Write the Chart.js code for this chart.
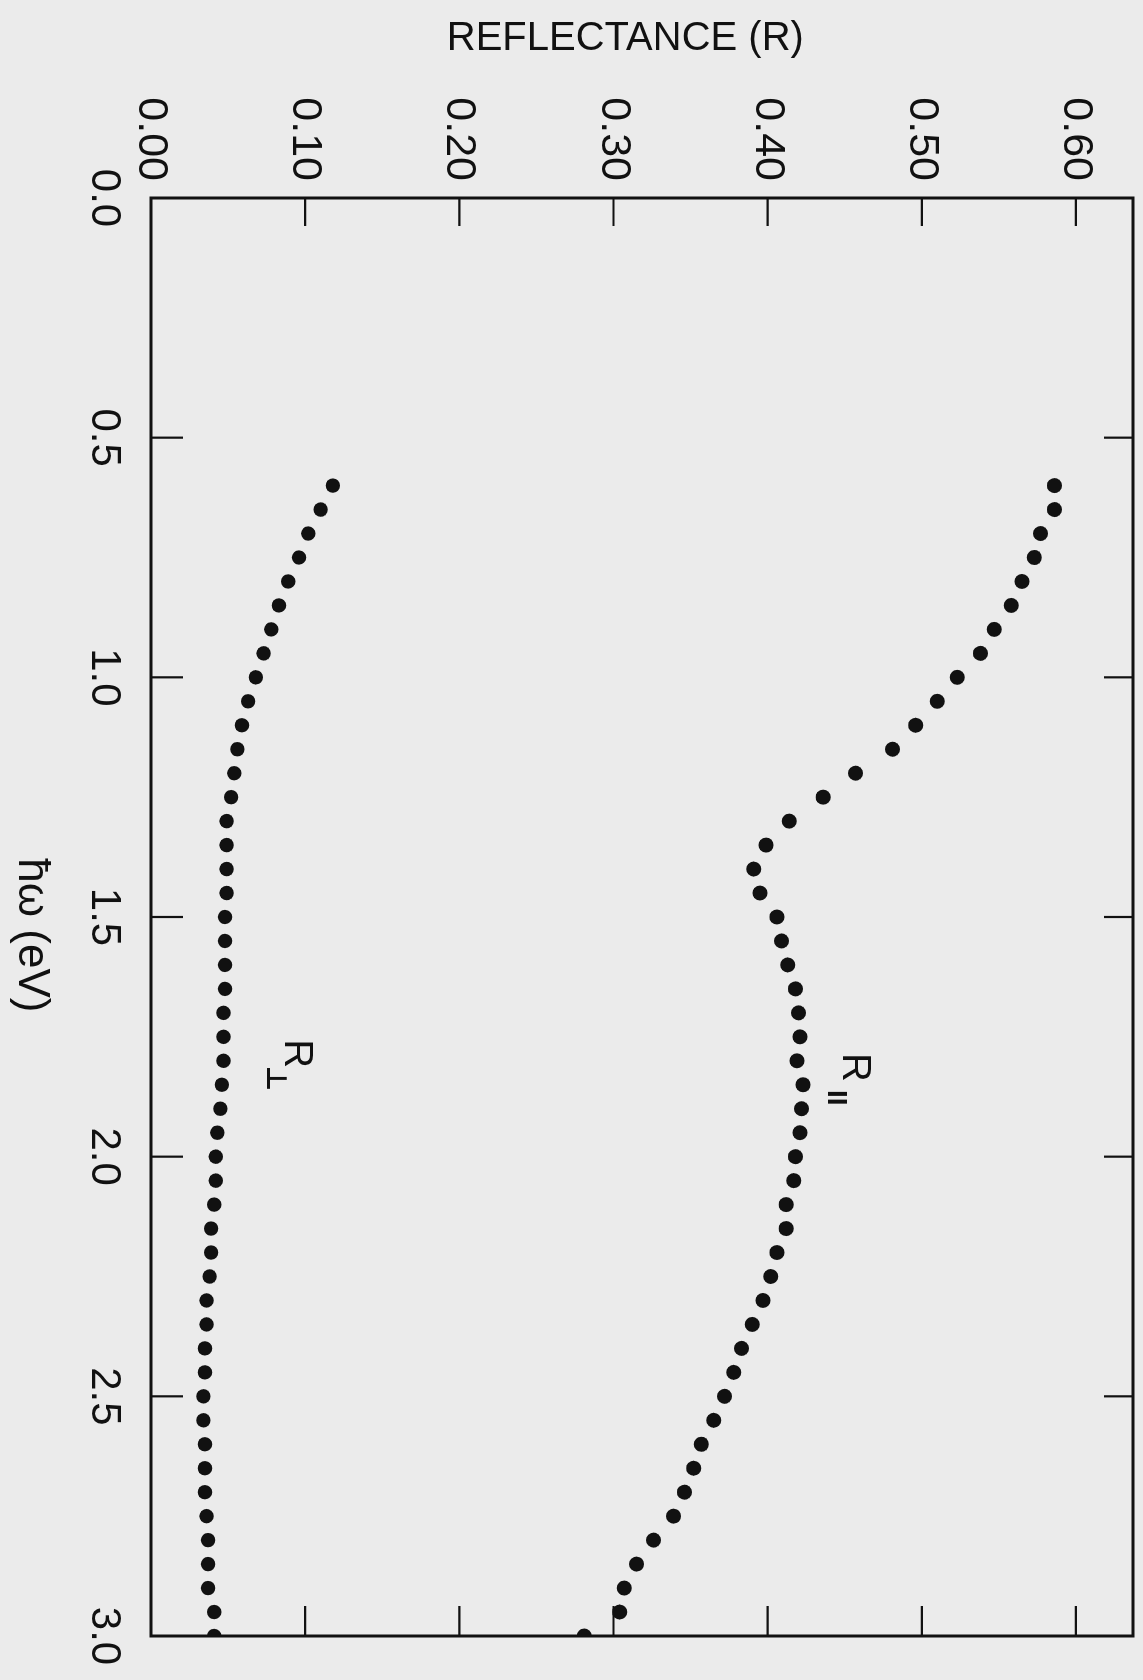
<!DOCTYPE html>
<html lang="en">
<head>
<meta charset="utf-8">
<title>Reflectance vs photon energy</title>
<script src="https://cdn.jsdelivr.net/npm/chart.js"></script>
<style>
	html, body { margin: 0; padding: 0; background: #ebebeb; }
	#page { position: relative; width: 1143px; height: 1680px; overflow: hidden; }
	/* the figure is printed turned a quarter turn clockwise */
	#turn { position: absolute; left: 0; top: 0; width: 1680px; height: 1143px; transform-origin: 0 0; transform: translate(1143px, 0) rotate(90deg); }
</style>
</head>
<body>
<div id="page"><div id="turn"><canvas id="plot" width="1680" height="1143"></canvas></div></div>
<script>
const energy = [0.60, 0.65, 0.70, 0.75, 0.80, 0.85, 0.90, 0.95, 1.00, 1.05,
	1.10, 1.15, 1.20, 1.25, 1.30, 1.35, 1.40, 1.45, 1.50, 1.55,
	1.60, 1.65, 1.70, 1.75, 1.80, 1.85, 1.90, 1.95, 2.00, 2.05,
	2.10, 2.15, 2.20, 2.25, 2.30, 2.35, 2.40, 2.45, 2.50, 2.55,
	2.60, 2.65, 2.70, 2.75, 2.80, 2.85, 2.90, 2.95, 3.00];

const rPar = [0.586, 0.586, 0.577, 0.573, 0.565, 0.558, 0.547, 0.538, 0.523, 0.510,
	0.496, 0.481, 0.457, 0.436, 0.414, 0.399, 0.391, 0.395, 0.406, 0.409,
	0.413, 0.418, 0.420, 0.421, 0.419, 0.423, 0.422, 0.421, 0.418, 0.417,
	0.412, 0.412, 0.406, 0.402, 0.397, 0.390, 0.383, 0.378, 0.372, 0.365,
	0.357, 0.352, 0.346, 0.339, 0.326, 0.315, 0.307, 0.304, 0.281];

const rPerp = [0.118, 0.110, 0.102, 0.096, 0.089, 0.083, 0.078, 0.073, 0.068, 0.063,
	0.059, 0.056, 0.054, 0.052, 0.049, 0.049, 0.049, 0.049, 0.048, 0.048,
	0.048, 0.048, 0.047, 0.047, 0.047, 0.046, 0.045, 0.043, 0.042, 0.042,
	0.041, 0.039, 0.039, 0.038, 0.036, 0.036, 0.035, 0.035, 0.034, 0.034,
	0.035, 0.035, 0.035, 0.036, 0.037, 0.037, 0.037, 0.041, 0.041];

const energyTicks = [0.5, 1.0, 1.5, 2.0, 2.5];
const reflTicks = [0.1, 0.2, 0.3, 0.4, 0.5, 0.6];

const ink = "#111";
const font = "'Liberation Sans', 'DejaVu Sans', sans-serif";

function pts(ys) {
	return energy.map((e, i) => ({x: e, y: ys[i]}));
}

// keep the plot box exactly where the fixed axis sizes put it
function noPad(scale) {
	scale.paddingLeft = 0;
	scale.paddingRight = 0;
	scale.paddingTop = 0;
	scale.paddingBottom = 0;
}

// frame with inward ticks on all four sides
const frame = {
	id: "frame",
	beforeDatasetsDraw(chart) {
		const {ctx, chartArea: a, scales: {x, y}} = chart;
		ctx.save();
		ctx.strokeStyle = ink;
		ctx.lineWidth = 2.2;
		ctx.beginPath();
		energyTicks.forEach(e => {
			const px = x.getPixelForValue(e);
			ctx.moveTo(px, a.bottom); ctx.lineTo(px, a.bottom - 32);
			ctx.moveTo(px, a.top); ctx.lineTo(px, a.top + 29);
		});
		reflTicks.forEach(r => {
			const py = y.getPixelForValue(r);
			ctx.moveTo(a.left, py); ctx.lineTo(a.left + 28, py);
			ctx.moveTo(a.right, py); ctx.lineTo(a.right - 30, py);
		});
		ctx.stroke();
		ctx.lineWidth = 3;
		ctx.strokeRect(a.left, a.top, a.right - a.left, a.bottom - a.top);
		ctx.restore();
	},
	afterDatasetsDraw(chart) {
		const {ctx, scales: {x, y}} = chart;
		ctx.save();
		ctx.fillStyle = ink;
		ctx.textAlign = "center";
		ctx.textBaseline = "middle";
		ctx.font = "40px " + font;
		ctx.fillText("R", x.getPixelForValue(1.814), y.getPixelForValue(0.456));
		ctx.fillText("R", x.getPixelForValue(1.785), y.getPixelForValue(0.094));
		ctx.font = "bold 28px " + font;
		ctx.fillText("II", x.getPixelForValue(1.877), y.getPixelForValue(0.444));
		ctx.font = "bold 28px 'DejaVu Sans', sans-serif";
		ctx.fillText("⊥", x.getPixelForValue(1.837), y.getPixelForValue(0.080));
		ctx.restore();
	}
};

new Chart(document.getElementById("plot"), {
	type: "scatter",
	data: {
		datasets: [{
			label: "R∥",
			data: pts(rPar),
			backgroundColor: ink,
			borderWidth: 0,
			pointRadius: 7.5,
			pointHoverRadius: 7.5
		}, {
			label: "R⊥",
			data: pts(rPerp),
			backgroundColor: ink,
			borderWidth: 0,
			pointRadius: 7.2,
			pointHoverRadius: 7.2
		}]
	},
	options: {
		responsive: false,
		animation: false,
		devicePixelRatio: 1,
		layout: {padding: {left: 0, top: 10, right: 44, bottom: 0}},
		plugins: {legend: {display: false}, tooltip: {enabled: false}},
		scales: {
			x: {
				type: "linear",
				min: 0, max: 3,
				afterFit(scale) { scale.height = 151; noPad(scale); },
				grid: {display: false, drawTicks: false},
				border: {display: false},
				ticks: {
					stepSize: 0.5,
					padding: 22,
					color: ink,
					font: {family: font, size: 42},
					callback: v => v.toFixed(1)
				},
				title: {
					display: true,
					text: "   ħω (eV)",
					color: ink,
					font: {family: font, size: 44},
					padding: {top: 0, bottom: 5}
				}
			},
			y: {
				type: "linear",
				min: 0, max: 0.637,
				afterFit(scale) { scale.width = 198; noPad(scale); },
				grid: {display: false, drawTicks: false},
				border: {display: false},
				ticks: {
					stepSize: 0.1,
					includeBounds: false,
					padding: 17,
					color: ink,
					font: {family: font, size: 43},
					callback: v => v.toFixed(2)
				},
				title: {
					display: true,
					text: "REFLECTANCE (R)   ",
					color: ink,
					font: {family: font, size: 40},
					padding: {top: 15, bottom: 0}
				}
			}
		}
	},
	plugins: [frame]
});
</script>
</body>
</html>
